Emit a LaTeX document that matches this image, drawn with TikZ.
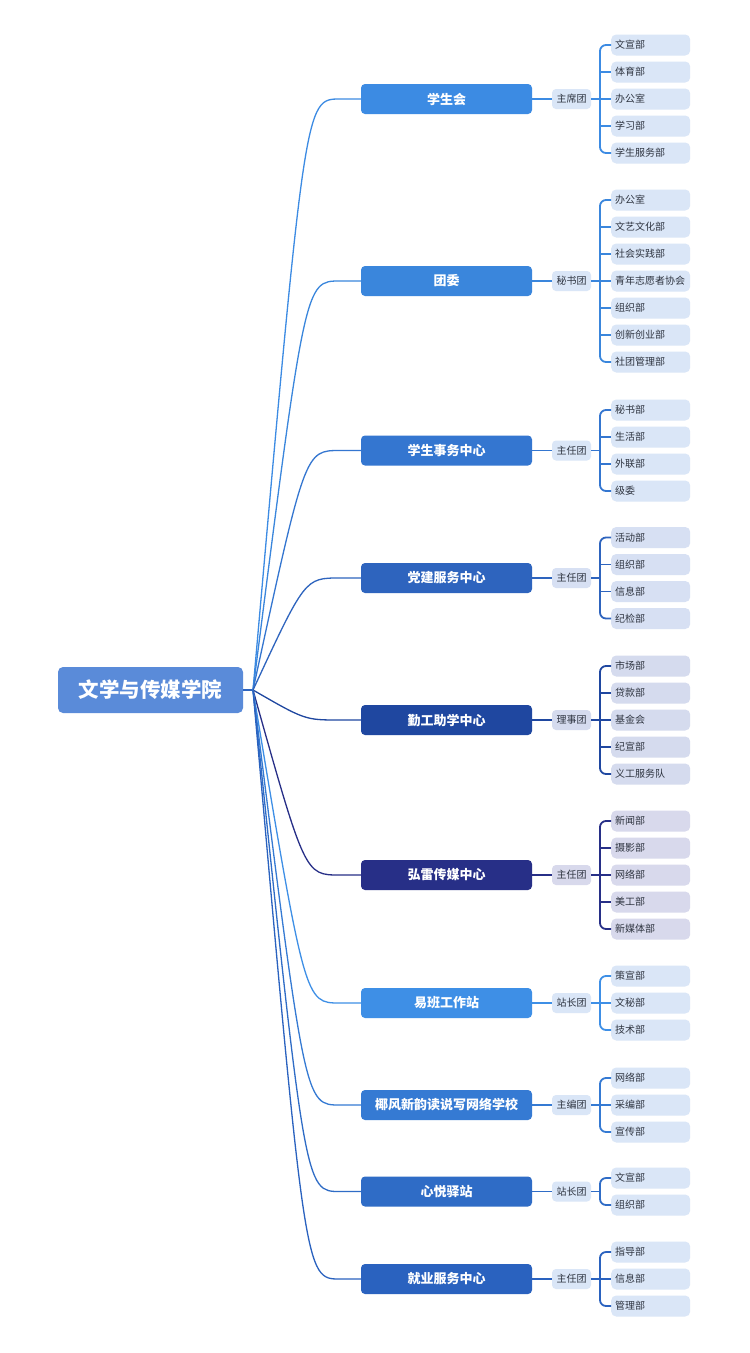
\documentclass[tikz,border=0pt]{standalone}
\usepackage{fontspec}
\setmainfont{Noto Sans CJK SC}
\usetikzlibrary{calc}
\definecolor{rootc}{HTML}{5A8BD9}
\definecolor{txt}{HTML}{2E3440}
\definecolor{cA}{HTML}{3C8BE3}
\definecolor{cB}{HTML}{3A86DC}
\definecolor{cC}{HTML}{3476D0}
\definecolor{cD}{HTML}{2E64BE}
\definecolor{cE}{HTML}{1F47A0}
\definecolor{cF}{HTML}{272F87}
\definecolor{cG}{HTML}{3E8FE6}
\definecolor{cH}{HTML}{357AD3}
\definecolor{cI}{HTML}{2F6CC6}
\definecolor{cJ}{HTML}{2A62BF}
\definecolor{fA}{HTML}{DAE6F7}
\definecolor{fD}{HTML}{D7E0F3}
\definecolor{fE}{HTML}{D5DBEE}
\definecolor{fF}{HTML}{D8D9EC}
\tikzset{
  rootbox/.style={fill=rootc, rounded corners=5pt, text=white, font=\fontsize{20.5}{22}\selectfont\bfseries, minimum width=185pt, minimum height=46pt, inner sep=0pt},
  branchbox/.style={rounded corners=4pt, text=white, font=\fontsize{13}{15}\selectfont\bfseries, minimum width=171pt, minimum height=30pt, inner sep=0pt},
  hubbox/.style={rounded corners=4pt, text=txt, font=\fontsize{10}{12}\selectfont, minimum width=39pt, minimum height=20pt, inner sep=0pt},
  leafbox/.style={rounded corners=5pt, text=txt, font=\fontsize{10}{12}\selectfont, minimum height=21pt, text width=71pt, inner xsep=4pt, inner ysep=0pt, align=left, anchor=west},
  conn/.style={line width=1.3pt},
  bracket/.style={line width=1.8pt, rounded corners=6pt},
}
% #1 id, #2 y, #3 label, #4 hub, #5 colour, #6 fill, #7 n leaves, #8 leaves
\newcommand\mkbranch[8]{%
  \node[branchbox, fill=#5] (#1) at (446.5,#2) {#3};
  \node[hubbox, fill=#6] (#1h) at (571.5,#2) {#4};
  \coordinate (#1j) at (600,#2);
  \draw[conn, draw=#5] (rj) .. controls ($(rj |- #1.west)+(52,0)$) .. ($(#1.west)+(-21,0)$) -- (#1.west);
  \draw[conn, draw=#5] (#1.east) -- (#1h.west);
  \draw[bracket, draw=#5] (#1h.east) -- (#1j);
  \foreach \t [count=\i] in {#8} {
    \node[leafbox, fill=#6] (#1l\i) at (611,{#2-13.5*(#7-1)+27*(\i-1)}) {\t};
    \ifnum\i>1 \ifnum\i<#7 \draw[bracket, draw=#5] (#1j |- #1l\i.west) -- (#1l\i.west); \fi\fi
  }
  \draw[bracket, draw=#5] (#1l1.west) -| (#1j) |- (#1l#7.west);
}
\begin{document}
\begin{tikzpicture}[x=1pt,y=-1pt]
\path[use as bounding box, fill=white] (0,0) rectangle (750,1353);
\node[rootbox] (root) at (150.5,690) {文学与传媒学院};
\coordinate (rj) at (253,690);
\draw[conn, draw=cD] (root.east) -- (rj);
\mkbranch{b1}{99}{学生会}{主席团}{cA}{fA}{5}{文宣部,体育部,办公室,学习部,学生服务部}
\mkbranch{b2}{281}{团委}{秘书团}{cB}{fA}{7}{办公室,文艺文化部,社会实践部,青年志愿者协会,组织部,创新创业部,社团管理部}
\mkbranch{b3}{450.5}{学生事务中心}{主任团}{cC}{fA}{4}{秘书部,生活部,外联部,级委}
\mkbranch{b4}{578}{党建服务中心}{主任团}{cD}{fD}{4}{活动部,组织部,信息部,纪检部}
\mkbranch{b5}{720}{勤工助学中心}{理事团}{cE}{fE}{5}{市场部,贷款部,基金会,纪宣部,义工服务队}
\mkbranch{b6}{875}{弘雷传媒中心}{主任团}{cF}{fF}{5}{新闻部,摄影部,网络部,美工部,新媒体部}
\mkbranch{b7}{1003}{易班工作站}{站长团}{cG}{fA}{3}{策宣部,文秘部,技术部}
\mkbranch{b8}{1105}{椰风新韵读说写网络学校}{主编团}{cH}{fA}{3}{网络部,采编部,宣传部}
\mkbranch{b9}{1191.5}{心悦驿站}{站长团}{cI}{fA}{2}{文宣部,组织部}
\mkbranch{b10}{1279}{就业服务中心}{主任团}{cJ}{fA}{3}{指导部,信息部,管理部}
\end{tikzpicture}
\end{document}
